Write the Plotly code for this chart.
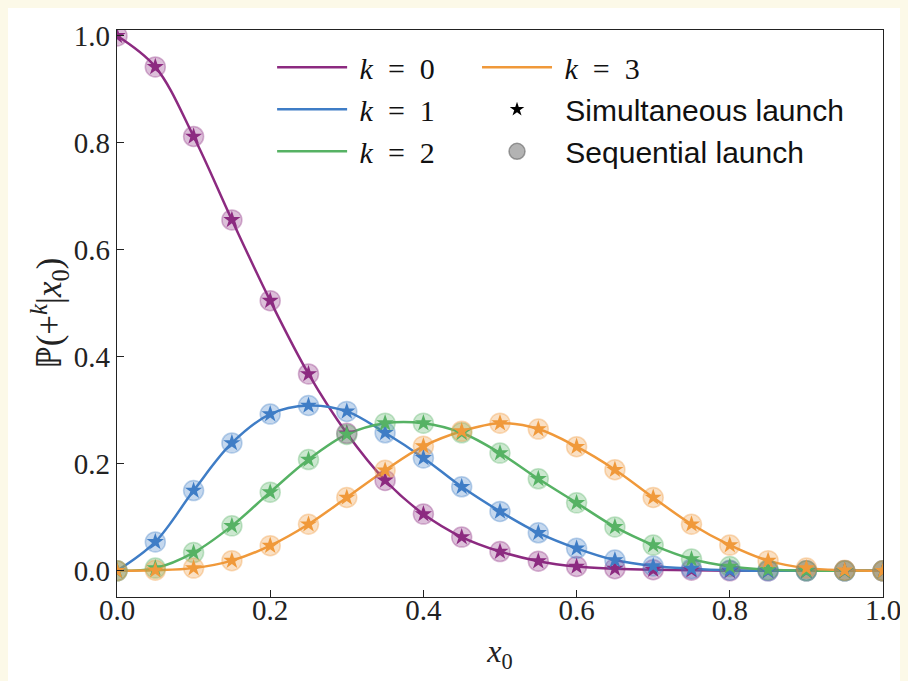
import plotly.graph_objects as go

x0 = [0.0, 0.05, 0.1, 0.15, 0.2, 0.25, 0.3, 0.35, 0.4, 0.45, 0.5,
      0.55, 0.6, 0.65, 0.7, 0.75, 0.8, 0.85, 0.9, 0.95, 1.0]
p_k0 = [1.0, 0.942, 0.812, 0.656, 0.505, 0.368, 0.257, 0.169, 0.106, 0.063, 0.036,
        0.018, 0.008, 0.004, 0.002, 0.001, 0.0, 0.0, 0.0, 0.0, 0.0]
p_k1 = [0.0, 0.054, 0.150, 0.239, 0.293, 0.309, 0.298, 0.258, 0.211, 0.157, 0.111,
        0.071, 0.042, 0.020, 0.009, 0.004, 0.001, 0.0, 0.0, 0.0, 0.0]
p_k2 = [0.0, 0.005, 0.034, 0.084, 0.147, 0.208, 0.255, 0.276, 0.276, 0.258, 0.220,
        0.172, 0.127, 0.082, 0.048, 0.022, 0.008, 0.002, 0.0, 0.0, 0.0]
p_k3 = [0.0, 0.001, 0.005, 0.019, 0.047, 0.087, 0.137, 0.188, 0.233, 0.261, 0.276,
        0.265, 0.232, 0.189, 0.137, 0.087, 0.048, 0.019, 0.005, 0.001, 0.0]

series = [("0", p_k0, (140, 42, 128)),
          ("1", p_k1, (63, 125, 198)),
          ("2", p_k2, (86, 178, 100)),
          ("3", p_k3, (240, 153, 58))]

x_ticks = [0.0, 0.2, 0.4, 0.6, 0.8, 1.0]
y_ticks = [0.0, 0.2, 0.4, 0.6, 0.8, 1.0]

SERIF = "Liberation Serif"
SANS = "Liberation Sans"
NB = "\u00a0"
CREAM = "#fcf9e8"

fig = go.Figure()

def rgb(c, a=1.0):
    return f"rgba({c[0]},{c[1]},{c[2]},{a})"

# lines
for i, (k, ys, c) in enumerate(series):
    fig.add_trace(go.Scatter(
        x=x0, y=ys, mode="lines", line=dict(color=rgb(c), width=2.5, shape="spline"),
        name=f"{NB}<i>k</i>{NB}{NB}={NB}{NB}{k}",
        legend="legend" if i < 3 else "legend2",
        legendgroup=f"g{k}",
    ))
# sequential launch circles
for k, ys, c in series:
    fig.add_trace(go.Scatter(
        x=x0, y=ys, mode="markers", showlegend=False,
        marker=dict(symbol="circle", size=20, color=rgb(c, 0.3),
                    line=dict(color=rgb(c, 0.35), width=1.5)),
    ))
# simultaneous launch stars
for k, ys, c in series:
    fig.add_trace(go.Scatter(
        x=x0, y=ys, mode="markers", showlegend=False,
        marker=dict(symbol="star", size=13, color=rgb(c), line=dict(width=0)),
    ))

# legend-only entries
fig.add_trace(go.Scatter(
    x=[None], y=[None], mode="markers", legend="legend2", legendgroup="sim",
    name=f'<span style="font-family:{SANS}">{NB}Simultaneous launch</span>',
    marker=dict(symbol="star", size=11, color="black", line=dict(width=0)),
))
fig.add_trace(go.Scatter(
    x=[None], y=[None], mode="markers", legend="legend2", legendgroup="seq",
    name=f'<span style="font-family:{SANS}">{NB}Sequential launch</span>',
    marker=dict(symbol="circle", size=16, color="rgba(128,128,128,0.6)",
                line=dict(color="rgba(100,100,100,0.6)", width=1.5)),
))

legend_common = dict(
    font=dict(family=SERIF, size=30, color="#111"),
    bgcolor="rgba(0,0,0,0)", borderwidth=0,
    traceorder="grouped", tracegroupgap=0, itemwidth=70,
    yanchor="top", xanchor="left",
)

fig.update_layout(
    width=908, height=681,
    margin=dict(l=109, r=33, t=17, b=92),
    paper_bgcolor="white",
    plot_bgcolor="white",
    legend=dict(x=0.2025, y=0.98, **legend_common),
    legend2=dict(x=0.47, y=0.98, **legend_common),
    xaxis=dict(
        range=[0, 1], tickvals=x_ticks, tickformat=".1f",
        ticks="inside", ticklen=7, tickwidth=1, tickcolor="#222",
        showline=True, linecolor="#222", linewidth=1.3, mirror=True,
        showgrid=False, zeroline=False, ticklabelstandoff=-13,
        tickfont=dict(family=SERIF, size=29, color="#222"),
        title=dict(text="<i>x</i><sub>0</sub>", font=dict(family=SERIF, size=32, color="#222"),
                   standoff=14),
    ),
    yaxis=dict(
        range=[-0.049, 1.011], tickvals=y_ticks, tickformat=".1f",
        ticks="inside", ticklen=7, tickwidth=1, tickcolor="#222",
        showline=True, linecolor="#222", linewidth=1.3, mirror=True,
        showgrid=False, zeroline=False,
        tickfont=dict(family=SERIF, size=29, color="#222"),
        title=dict(text="\u2119(+<sup><i>k</i></sup>|<i>x</i><sub>0</sub>)",
                   font=dict(family=SERIF, size=35, color="#222"), standoff=0),
    ),
)

fig.write_html("out.html", post_script=f"document.body.style.background='{CREAM}';")
